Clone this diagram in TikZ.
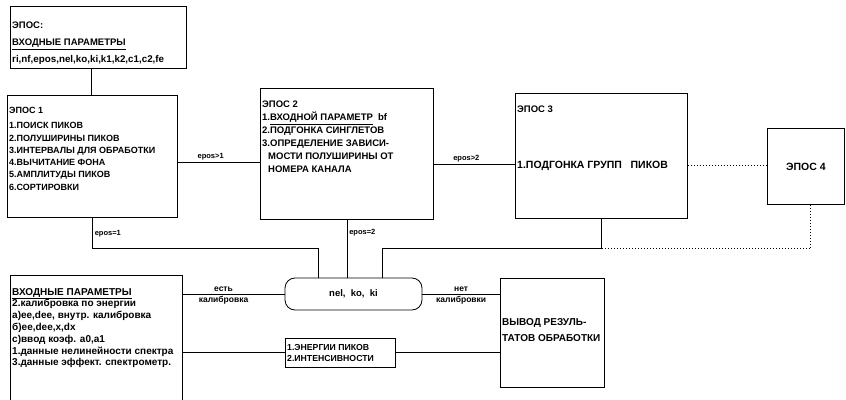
\documentclass[tikz,border=0pt]{standalone}
\usepackage{fontspec}
\setmainfont{Liberation Sans}
\usetikzlibrary{calc,positioning}
\tikzset{
  block/.style={
    draw,
    rectangle,
    anchor=north west,
    inner sep=0pt,
    line width=0.8pt,
  },
  blocktext/.style={
    anchor=north west,
    align=left,
    inner xsep=2pt,
    inner ysep=0pt,
    font=\fontsize{9}{12.3}\selectfont\bfseries,
  },
  link/.style={line width=0.8pt},
  dotlink/.style={line width=1pt, dotted},
  tag/.style={font=\fontsize{7.5}{8}\selectfont\bfseries, inner sep=2pt},
}

\begin{document}
\begin{tikzpicture}[x=1pt,y=1pt]
  \useasboundingbox (0,0) rectangle (846,399);

  % blocks
  \node[block, minimum width=176pt, minimum height=62pt,
    label={[blocktext, yshift=-16pt, font=\fontsize{9.5}{17}\selectfont\bfseries]north west:{ЭПОС:\\\underline{ВХОДНЫЕ ПАРАМЕТРЫ}\\{\fontsize{9.8}{10}\selectfont ri,nf,epos,nel,ko,ki,k1,k2,c1,c2,fe}}}]
    (top) at (10,393) {};
  \node[block, minimum width=170pt, minimum height=122pt,
    label={[blocktext, yshift=-12pt]north west:{ЭПОС 1\\[3pt]1.ПОИСК ПИКОВ\\2.ПОЛУШИРИНЫ ПИКОВ\\3.ИНТЕРВАЛЫ ДЛЯ ОБРАБОТКИ\\4.ВЫЧИТАНИЕ ФОНА\\5.АМПЛИТУДЫ ПИКОВ\\6.СОРТИРОВКИ}}]
    (e1) at (7,304) {};
  \node[block, minimum width=173pt, minimum height=131pt,
    label={[blocktext, yshift=-13pt, font=\fontsize{9.5}{13}\selectfont\bfseries]north west:{ЭПОС 2\\1.\underline{ВХОДНОЙ ПАРАМЕТР}\ \ bf\\2.ПОДГОНКА СИНГЛЕТОВ\\3.ОПРЕДЕЛЕНИЕ ЗАВИСИ-\\\hspace*{6pt}МОСТИ ПОЛУШИРИНЫ ОТ\\\hspace*{6pt}НОМЕРА КАНАЛА}}]
    (e2) at (260,311) {};
  \node[block, minimum width=172pt, minimum height=125pt,
    label={[blocktext, yshift=-13pt, font=\fontsize{9.5}{11}\selectfont\bfseries]north west:{ЭПОС 3}},
    label={[blocktext, anchor=west, yshift=-9.5pt, font=\fontsize{10.5}{11}\selectfont\bfseries]west:{1.ПОДГОНКА ГРУПП\ \ \ ПИКОВ}}]
    (e3) at (515,306) {};
  \node[block, minimum width=77pt, minimum height=76pt, font=\fontsize{10.5}{12}\selectfont\bfseries]
    (e4) at (767,271) {ЭПОС 4};
  \node[block, minimum width=172pt, minimum height=132pt,
    label={[blocktext, yshift=-13pt, font=\fontsize{10}{11.8}\selectfont\bfseries]north west:{\underline{ВХОДНЫЕ ПАРАМЕТРЫ}\\2.калибровка по энергии\\а)ee,dee, внутр. калибровка\\б)ee,dee,x,dx\\с)ввод коэф. a0,a1\\1.данные нелинейности спектра\\3.данные эффект. спектрометр.}}]
    (inp) at (10,124) {};
  \node[draw, rounded corners=10pt, minimum width=137pt, minimum height=32pt,
    line width=0.8pt, font=\fontsize{9.5}{10}\selectfont\bfseries]
    (bus) at (353.5,105) {nel,\ \ ko,\ \ ki};
  \node[block, minimum width=110pt, minimum height=29pt,
    label={[blocktext, anchor=west, font=\fontsize{8.7}{11}\selectfont\bfseries]west:{1.ЭНЕРГИИ ПИКОВ\\2.ИНТЕНСИВНОСТИ}}]
    (energy) at (285,61) {};
  \node[block, minimum width=104pt, minimum height=109pt,
    label={[blocktext, anchor=west, yshift=2.5pt, font=\fontsize{10}{16}\selectfont\bfseries]west:{ВЫВОД РЕЗУЛЬ-\\ТАТОВ ОБРАБОТКИ}}]
    (out) at (500,121) {};

  % connections
  \draw[link] ([xshift=-7pt]top.south) -- ([xshift=-7pt]top.south |- e1.north);
  \draw[link] ([yshift=-6pt]e1.east) -- ([yshift=-6pt]e1.east -| e2.west)
    node[tag, pos=0.4, above] {epos>1};
  \draw[link] ([yshift=-11pt]e2.east) -- ([yshift=-11pt]e2.east -| e3.west)
    node[tag, pos=0.4, above] {epos>2};
  \draw[dotlink] ([yshift=-10pt]e3.east) -- ([yshift=-10pt]e3.east -| e4.west);

  \draw[link] (e1.south) -- ++(0,-31) node[tag, midway, right] {epos=1}
    -| ([xshift=-35.5pt]bus.north);
  \draw[link] (e2.south) -- (e2.south |- bus.north)
    node[tag, pos=0.22, right] {epos=2};
  \draw[link] (e3.south) -- ++(0,-30) coordinate (j3) -| ([xshift=28.5pt]bus.north);
  \draw[dotlink] ([xshift=5pt]e4.south) |- (j3);

  \draw[link] (bus.west -| inp.east) -- (bus.west)
    node[tag, pos=0.4, above, font=\fontsize{8.5}{9}\selectfont\bfseries] {есть}
    node[tag, pos=0.4, below, font=\fontsize{8.5}{9}\selectfont\bfseries] {калибровка};
  \draw[link] (bus.east) -- (bus.east -| out.west)
    node[tag, midway, above, font=\fontsize{8.5}{9}\selectfont\bfseries] {нет}
    node[tag, midway, below, font=\fontsize{8.5}{9}\selectfont\bfseries] {калибровки};
  \draw[link] (energy.west -| inp.east) -- (energy.west);
  \draw[link] (energy.east) -- (energy.east -| out.west);
\end{tikzpicture}
\end{document}
